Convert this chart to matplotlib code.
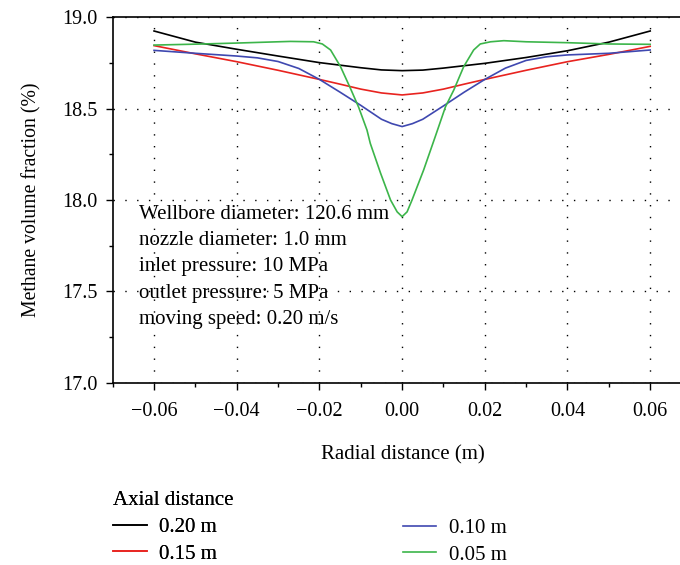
import matplotlib.pyplot as plt
from matplotlib.ticker import MultipleLocator

plt.rcParams['font.family'] = ['Liberation Serif', 'DejaVu Serif']

# radial positions (m) and methane volume fraction (%) per axial distance
x_black = [-0.06, -0.05, -0.04, -0.03, -0.02, -0.01, -0.005, 0.0, 0.005, 0.01, 0.02, 0.03, 0.04, 0.05, 0.06]
y_black = [18.925, 18.864, 18.825, 18.788, 18.752, 18.724, 18.712, 18.708, 18.711, 18.722, 18.748, 18.780,
           18.817, 18.864, 18.925]

x_red = [-0.06, -0.05, -0.04, -0.03, -0.02, -0.015, -0.01, -0.005, 0.0, 0.005, 0.01, 0.015, 0.02, 0.03, 0.04,
         0.05, 0.06]
y_red = [18.845, 18.800, 18.757, 18.710, 18.660, 18.634, 18.607, 18.586, 18.575, 18.586, 18.607, 18.634, 18.660,
         18.710, 18.757, 18.797, 18.841]

x_blue = [-0.06, -0.05, -0.04, -0.035, -0.03, -0.025, -0.02, -0.015, -0.01, -0.005, -0.0025, 0.0,
          0.0025, 0.005, 0.01, 0.015, 0.02, 0.025, 0.03, 0.035, 0.04, 0.05, 0.06]
y_blue = [18.819, 18.803, 18.788, 18.778, 18.758, 18.720, 18.660, 18.590, 18.518, 18.442, 18.418, 18.402,
          18.418, 18.442, 18.515, 18.590, 18.660, 18.722, 18.764, 18.784, 18.794, 18.803, 18.821]

x_green = [-0.06, -0.05, -0.04, -0.03, -0.027, -0.0214, -0.0193, -0.0173, -0.0149, -0.0125, -0.0105,
           -0.0085, -0.0077, -0.0052, -0.0028, -0.0012, 0.0, 0.0012, 0.0024, 0.0052, 0.008, 0.0105,
           0.0125, 0.0149, 0.0173, 0.0189, 0.0214, 0.0246, 0.03, 0.04, 0.05, 0.06]
y_green = [18.848, 18.853, 18.859, 18.866, 18.868, 18.866, 18.854, 18.821, 18.730, 18.611, 18.507,
           18.383, 18.310, 18.146, 18.000, 17.935, 17.909, 17.935, 18.000, 18.164, 18.346, 18.511,
           18.602, 18.730, 18.821, 18.854, 18.866, 18.872, 18.866, 18.861, 18.854, 18.852]

labels = ['0.20 m', '0.15 m', '0.10 m', '0.05 m']
colors = ['#000000', '#e8231f', '#3f48b0', '#3cb54a']

fig = plt.figure(figsize=(6.8, 5.65), dpi=100)
ax = fig.add_axes([112.7 / 680, 1 - 382.7 / 565, 1.0 - 112.7 / 680 + 0.02, 365.4 / 565])

l1, = ax.plot(x_black, y_black, color=colors[0], lw=1.2, label=labels[0])
l2, = ax.plot(x_red, y_red, color=colors[1], lw=1.2, label=labels[1])
l3, = ax.plot(x_blue, y_blue, color=colors[2], lw=1.2, label=labels[2])
l4, = ax.plot(x_green, y_green, color=colors[3], lw=1.2, label=labels[3])

ax.set_xlim(-0.07, 0.0705)
ax.set_ylim(17.0, 19.0)
ax.xaxis.set_minor_locator(MultipleLocator(0.01))
ax.yaxis.set_minor_locator(MultipleLocator(0.25))
ax.set_xticks([-0.06, -0.04, -0.02, 0.0, 0.02, 0.04, 0.06])
ax.set_xticklabels(['\u22120.06', '\u22120.04', '\u22120.02', '0.00', '0.02', '0.04', '0.06'])
ax.set_yticks([17.0, 17.5, 18.0, 18.5, 19.0])
ax.set_yticklabels(['17.0', '17.5', '18.0', '18.5', '19.0'])
ax.tick_params(axis='both', which='major', direction='out', length=5, width=1, labelsize=14.5)
ax.tick_params(axis='y', which='major', pad=6)
ax.tick_params(axis='x', which='major', pad=9)
ax.tick_params(axis='both', which='minor', direction='out', length=3, width=1)
ax.grid(True, which='major', linestyle=(0, (1, 7.5)), color='black', lw=1.0)
ax.spines['right'].set_visible(False)
for s in ['left', 'bottom', 'top']:
    ax.spines[s].set_linewidth(1.2)

ax.set_xlabel('Radial distance (m)', fontsize=15, labelpad=17)
ax.set_ylabel('Methane volume fraction (%)', fontsize=14.2, labelpad=15)

info = ('Wellbore diameter: 120.6 mm\nnozzle diameter: 1.0 mm\n'
        'inlet pressure: 10 MPa\noutlet pressure: 5 MPa\nmoving speed: 0.20 m/s')
ax.text(-0.0636, 17.975, info, fontsize=15, va='top', ha='left', linespacing=1.53)

# legend in two blocks, second one sits a little higher as in the figure
leg1 = fig.legend(handles=[l1, l2], loc='upper left', bbox_to_anchor=(103 / 680, 1 - 481 / 565),
                  frameon=False, fontsize=15, title='Axial distance', title_fontsize=15,
                  handlelength=1.6, handletextpad=0.6, labelspacing=0.34, borderpad=0,
                  alignment='left')
leg2 = fig.legend(handles=[l3, l4], loc='upper left', bbox_to_anchor=(392.5 / 680, 1 - 508 / 565),
                  frameon=False, fontsize=15, handlelength=1.6, handletextpad=0.6,
                  labelspacing=0.34, borderpad=0)
fig.add_artist(leg1)

fig.savefig('out.png', dpi=100)
